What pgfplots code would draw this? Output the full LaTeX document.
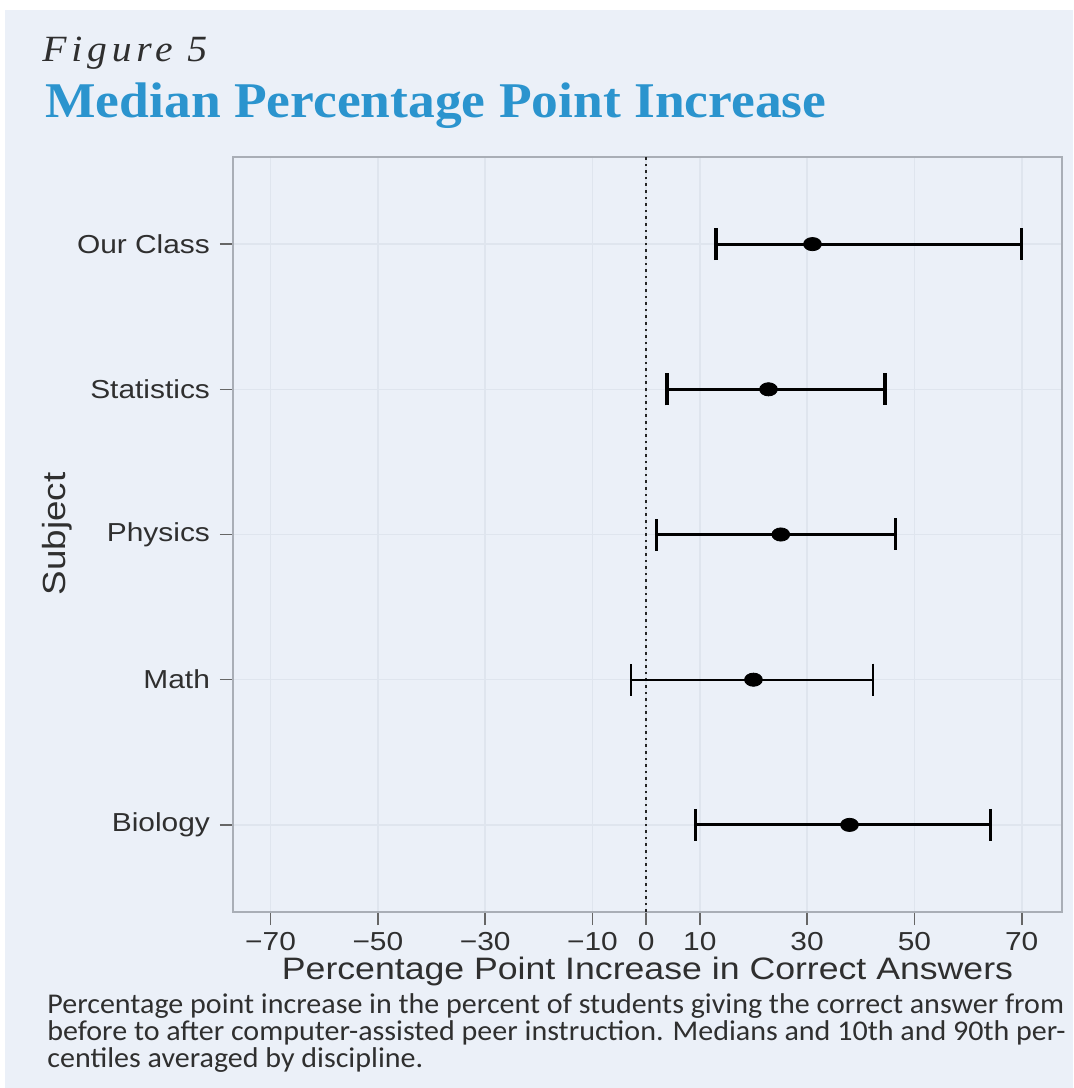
\documentclass[border=0pt]{standalone}
\usepackage{pgfplots}
\pgfplotsset{compat=1.18}
\usepackage{fontspec}
\setmainfont{Liberation Sans}[FakeStretch=1.15]
\newfontfamily\serifT{Liberation Serif}[FakeStretch=1.07]
\newfontfamily\capfont{Carlito}[FakeStretch=1.05]
\definecolor{bg}{HTML}{EBF0F8}
\definecolor{titleblue}{HTML}{2B94CE}
\definecolor{framegray}{HTML}{A9AEB6}
\definecolor{gridc}{HTML}{DFE5EE}
\definecolor{txt}{HTML}{2F2F2F}
\begin{document}
\begin{tikzpicture}[x=1pt,y=1pt]
\fill[white] (0,0) rectangle (536.5,544);
\fill[bg] (2.5,0) rectangle (536.5,539);
\node[anchor=base west, inner sep=0, text=txt] at (21,513) {\serifT\itshape\fontsize{18.5}{20}\selectfont\addfontfeature{LetterSpace=13}Figure 5};
\node[anchor=base west, inner sep=0, text=titleblue] at (22.5,485) {\serifT\bfseries\fontsize{25}{28}\selectfont Median Percentage Point Increase};
\begin{axis}[
  at={(116.5pt,88pt)}, anchor=south west,
  scale only axis, width=414.5pt, height=377.5pt,
  xmin=-77, xmax=77.5, ymin=0.4, ymax=5.6,
  axis background/.style={fill=bg},
  axis line style={framegray, line width=1.4pt},
  xtick={-70,-50,-30,-10,0,10,30,50,70},
  xticklabels={−70,−50,−30,−10,0,10,30,50,70},
  ytick={1,2,3,4,5},
  yticklabels={Biology,Math,Physics,Statistics,Our Class},
  xtick pos=bottom, ytick pos=left,
  tick align=outside, major tick length=6.5pt,
  tick style={color=black!60, line width=0.8pt},
  xmajorgrids, ymajorgrids,
  grid style={gridc, line width=0.8pt},
  ticklabel style={text=txt, font=\fontsize{13}{14}\selectfont},
  yticklabel style={xshift=-1.5pt},
  xlabel={Percentage Point Increase in Correct Answers},
  xlabel style={font=\fontsize{15.5}{17}\selectfont, text=txt, yshift=3.5pt},
]
\draw[black!85, line width=1.3pt, dash pattern=on 1.3pt off 2pt] (axis cs:0,0.4) -- (axis cs:0,5.6);
\addplot[black, mark=*, only marks, mark size=3.3pt, mark options={xscale=1.35},
  error bars/.cd, x dir=both, x explicit,
  error bar style={line width=1.6pt},
  error mark=|,
  error mark options={rotate=0, mark size=8pt, line width=1.6pt}]
  coordinates {
    (31.0,5) -= (18.0,0) += (39.0,0)
    (22.8,4) -= (18.9,0) += (21.7,0)
    (25.1,3) -= (23.2,0) += (21.3,0)
    (37.9,1) -= (28.7,0) += (26.3,0)
  };
\addplot[black, mark=*, only marks, mark size=3.3pt, mark options={xscale=1.35},
  error bars/.cd, x dir=both, x explicit,
  error bar style={line width=0.9pt},
  error mark=|,
  error mark options={rotate=0, mark size=8pt, line width=1.1pt}]
  coordinates {
    (20.0,2) -= (22.8,0) += (22.3,0)
  };
\end{axis}
\node[rotate=90, text=txt] at (28.5,277) {\fontsize{16}{17}\selectfont Subject};
\node[anchor=base west, inner sep=0, text=txt] at (23.5,37.5) {\capfont\fontsize{14.3}{14}\selectfont Percentage point increase in the percent of students giving the correct answer from};
\node[anchor=base west, inner sep=0, text=txt] at (23.5,23.75) {\capfont\fontsize{14.3}{14}\selectfont before to after computer-assisted peer instruction. Medians and 10th and 90th per-};
\node[anchor=base west, inner sep=0, text=txt] at (23.5,10) {\capfont\fontsize{14.3}{14}\selectfont centiles averaged by discipline.};
\end{tikzpicture}
\end{document}
